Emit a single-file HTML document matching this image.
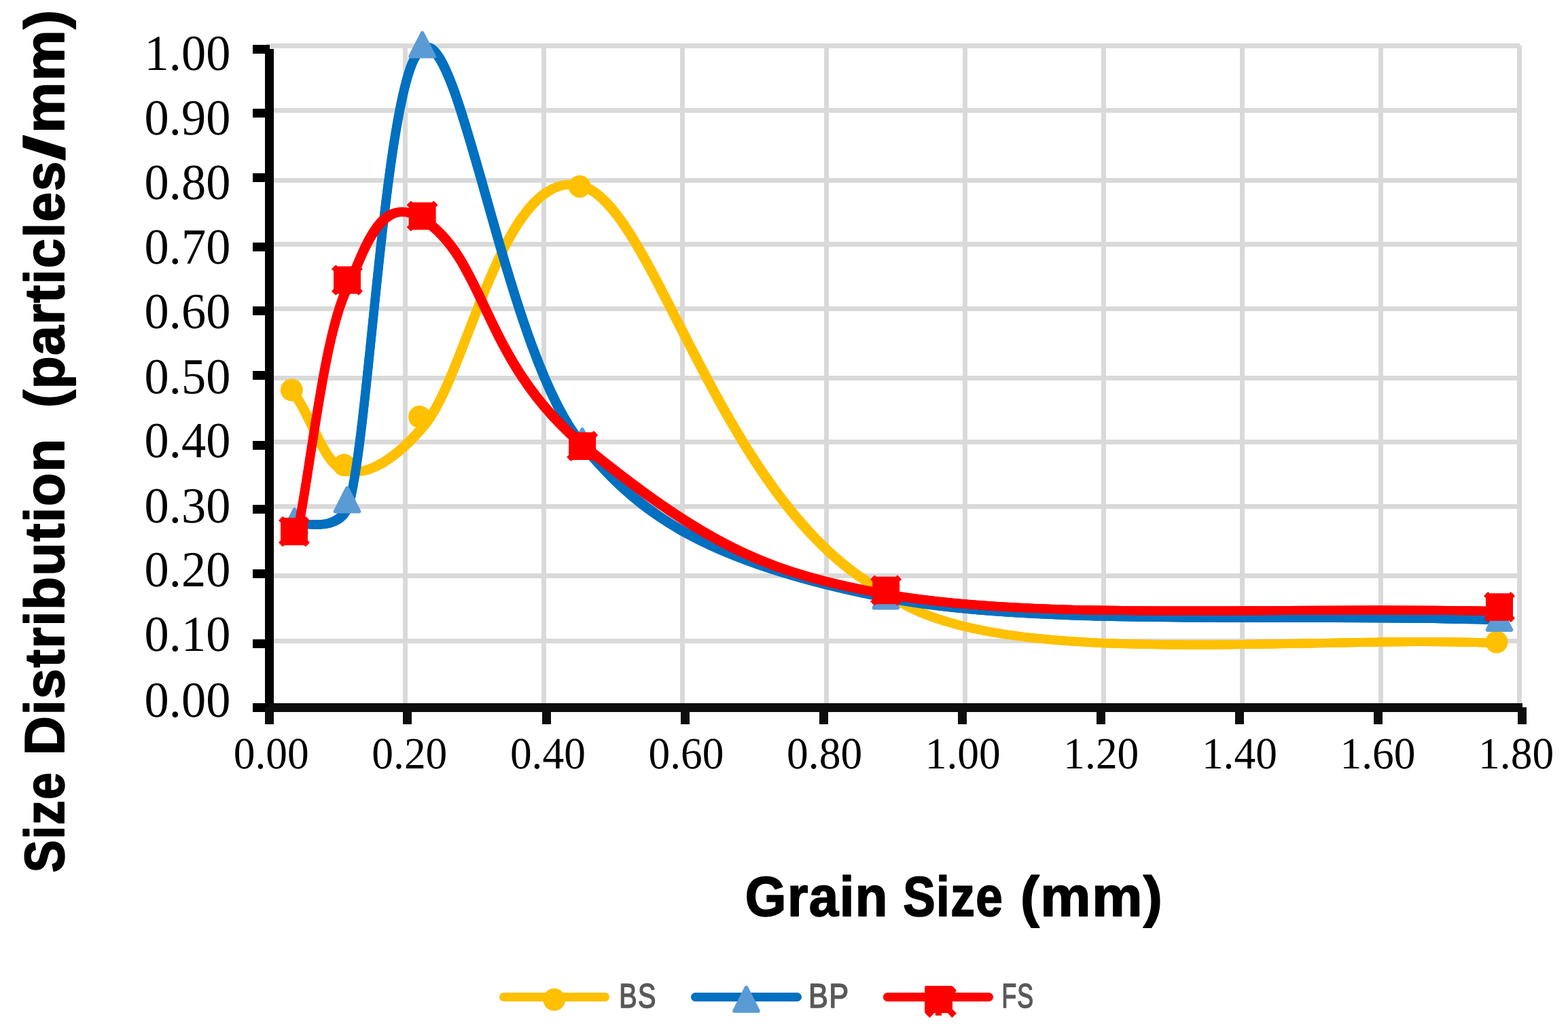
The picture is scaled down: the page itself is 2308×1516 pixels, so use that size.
<!DOCTYPE html>
<html lang="en">
<head>
<meta charset="utf-8">
<title>Size Distribution vs Grain Size</title>
<style>html,body{margin:0;padding:0;background:#fff}body{width:2308px;height:1516px}svg{display:block}</style>
</head>
<body>
<svg width="2308" height="1516" viewBox="0 0 2308 1516" shape-rendering="crispEdges" role="img" aria-label="Size distribution versus grain size for BS, BP and FS">
<rect width="2308" height="1516" fill="#fff"/>
<g fill="#D9D9D9">
<rect x="392" y="64" width="1845" height="7"/>
<rect x="392" y="159" width="1845" height="7"/>
<rect x="392" y="262" width="1845" height="7"/>
<rect x="392" y="356" width="1845" height="7"/>
<rect x="392" y="451" width="1845" height="7"/>
<rect x="392" y="553" width="1845" height="7"/>
<rect x="392" y="647" width="1845" height="7"/>
<rect x="392" y="742" width="1845" height="7"/>
<rect x="392" y="844" width="1845" height="7"/>
<rect x="392" y="940" width="1845" height="7"/>
<rect x="593" y="67" width="7" height="968"/>
<rect x="797" y="67" width="7" height="968"/>
<rect x="1001" y="67" width="7" height="968"/>
<rect x="1213" y="67" width="7" height="968"/>
<rect x="1417" y="67" width="7" height="968"/>
<rect x="1621" y="67" width="7" height="968"/>
<rect x="1825" y="67" width="7" height="968"/>
<rect x="2029" y="67" width="7" height="968"/>
<rect x="2233" y="67" width="7" height="968"/>
</g>
<g fill="none" stroke-width="13" stroke-linejoin="round" stroke-linecap="round" shape-rendering="geometricPrecision">
<g stroke="#FFC000"><path d="M436.5 584.4 C461.0 620.8 478.6 686.6 510.0 693.5 C541.4 700.4 582.0 676.6 625.0 625.5 C689.4 548.9 743.0 232.4 861.3 275.5 C967.1 314.0 1066.9 754.2 1307.5 874.0 C1455.7 991.6 1949.0 931.7 2210.5 947.3"/>
<path d="M436.5 584.4 C461.0 620.8 478.6 686.6 510.0 693.5 C541.4 700.4 582.0 676.6 625.0 625.5 C689.4 548.9 743.0 232.4 861.3 275.5 C967.1 314.0 1066.9 754.2 1307.5 874.0 C1455.7 991.6 1949.0 931.7 2210.5 947.3" stroke-width="8.2" transform="translate(-2.4 -2.4)"/>
<path d="M436.5 584.4 C461.0 620.8 478.6 686.6 510.0 693.5 C541.4 700.4 582.0 676.6 625.0 625.5 C689.4 548.9 743.0 232.4 861.3 275.5 C967.1 314.0 1066.9 754.2 1307.5 874.0 C1455.7 991.6 1949.0 931.7 2210.5 947.3" stroke-width="8.2" transform="translate(2.4 -2.4)"/>
<path d="M436.5 584.4 C461.0 620.8 478.6 686.6 510.0 693.5 C541.4 700.4 582.0 676.6 625.0 625.5 C689.4 548.9 743.0 232.4 861.3 275.5 C967.1 314.0 1066.9 754.2 1307.5 874.0 C1455.7 991.6 1949.0 931.7 2210.5 947.3" stroke-width="8.2" transform="translate(2.4 2.4)"/>
<path d="M436.5 584.4 C461.0 620.8 478.6 686.6 510.0 693.5 C541.4 700.4 582.0 676.6 625.0 625.5 C689.4 548.9 743.0 232.4 861.3 275.5 C967.1 314.0 1066.9 754.2 1307.5 874.0 C1455.7 991.6 1949.0 931.7 2210.5 947.3" stroke-width="8.2" transform="translate(-2.4 2.4)"/>
</g>
<g stroke="none"><circle cx="429.3" cy="574.0" r="16.5" fill="#FFC000"/><circle cx="506.5" cy="684.5" r="16.5" fill="#FFC000"/><circle cx="617.5" cy="613.5" r="16.5" fill="#FFC000"/><circle cx="853.3" cy="274.4" r="16.5" fill="#FFC000"/><circle cx="1300.5" cy="869.0" r="16.5" fill="#FFC000"/><circle cx="2203.0" cy="945.0" r="16.5" fill="#FFC000"/></g>
<g stroke="#0070C0"><path d="M436.5 770.3 C462.0 772.5 503.5 780.0 514.5 738.7 C545.9 621.9 567.9 83.6 625.0 69.5 C681.5 55.5 745.4 521.6 856.9 654.1 C933.1 744.7 1021.0 825.7 1307.5 880.5 C1533.1 923.6 1909.5 902.2 2210.5 913.0"/>
<path d="M436.5 770.3 C462.0 772.5 503.5 780.0 514.5 738.7 C545.9 621.9 567.9 83.6 625.0 69.5 C681.5 55.5 745.4 521.6 856.9 654.1 C933.1 744.7 1021.0 825.7 1307.5 880.5 C1533.1 923.6 1909.5 902.2 2210.5 913.0" stroke-width="8.2" transform="translate(-2.4 -2.4)"/>
<path d="M436.5 770.3 C462.0 772.5 503.5 780.0 514.5 738.7 C545.9 621.9 567.9 83.6 625.0 69.5 C681.5 55.5 745.4 521.6 856.9 654.1 C933.1 744.7 1021.0 825.7 1307.5 880.5 C1533.1 923.6 1909.5 902.2 2210.5 913.0" stroke-width="8.2" transform="translate(2.4 -2.4)"/>
<path d="M436.5 770.3 C462.0 772.5 503.5 780.0 514.5 738.7 C545.9 621.9 567.9 83.6 625.0 69.5 C681.5 55.5 745.4 521.6 856.9 654.1 C933.1 744.7 1021.0 825.7 1307.5 880.5 C1533.1 923.6 1909.5 902.2 2210.5 913.0" stroke-width="8.2" transform="translate(2.4 2.4)"/>
<path d="M436.5 770.3 C462.0 772.5 503.5 780.0 514.5 738.7 C545.9 621.9 567.9 83.6 625.0 69.5 C681.5 55.5 745.4 521.6 856.9 654.1 C933.1 744.7 1021.0 825.7 1307.5 880.5 C1533.1 923.6 1909.5 902.2 2210.5 913.0" stroke-width="8.2" transform="translate(-2.4 2.4)"/>
</g>
<g stroke="none"><path d="M433.5 750.0 L451.0 784.4 L416.0 784.4 Z" fill="#5B9BD5" stroke="#5B9BD5" stroke-width="5.6" stroke-linejoin="round"/><path d="M511.0 718.3 L528.5 752.7 L493.5 752.7 Z" fill="#5B9BD5" stroke="#5B9BD5" stroke-width="5.6" stroke-linejoin="round"/><path d="M621.6 48.5 L639.1 82.9 L604.1 82.9 Z" fill="#5B9BD5" stroke="#5B9BD5" stroke-width="5.6" stroke-linejoin="round"/><path d="M857.1 632.0 L874.6 666.4 L839.6 666.4 Z" fill="#5B9BD5" stroke="#5B9BD5" stroke-width="5.6" stroke-linejoin="round"/><path d="M1303.9 860.2 L1321.4 894.6 L1286.4 894.6 Z" fill="#5B9BD5" stroke="#5B9BD5" stroke-width="5.6" stroke-linejoin="round"/><path d="M2207.0 892.7 L2224.5 927.1 L2189.5 927.1 Z" fill="#5B9BD5" stroke="#5B9BD5" stroke-width="5.6" stroke-linejoin="round"/></g>
<g stroke="#FF0000"><path d="M436.5 788.0 C453.8 720.5 476.2 482.1 514.5 418.0 C541.8 350.8 566.3 283.3 625.0 324.0 C718.9 389.1 708.4 534.5 866.5 662.1 C1048.5 809.0 1137.3 844.9 1307.5 875.0 C1531.5 914.6 1909.5 891.5 2210.5 899.8"/>
<path d="M436.5 788.0 C453.8 720.5 476.2 482.1 514.5 418.0 C541.8 350.8 566.3 283.3 625.0 324.0 C718.9 389.1 708.4 534.5 866.5 662.1 C1048.5 809.0 1137.3 844.9 1307.5 875.0 C1531.5 914.6 1909.5 891.5 2210.5 899.8" stroke-width="8.2" transform="translate(-2.4 -2.4)"/>
<path d="M436.5 788.0 C453.8 720.5 476.2 482.1 514.5 418.0 C541.8 350.8 566.3 283.3 625.0 324.0 C718.9 389.1 708.4 534.5 866.5 662.1 C1048.5 809.0 1137.3 844.9 1307.5 875.0 C1531.5 914.6 1909.5 891.5 2210.5 899.8" stroke-width="8.2" transform="translate(2.4 -2.4)"/>
<path d="M436.5 788.0 C453.8 720.5 476.2 482.1 514.5 418.0 C541.8 350.8 566.3 283.3 625.0 324.0 C718.9 389.1 708.4 534.5 866.5 662.1 C1048.5 809.0 1137.3 844.9 1307.5 875.0 C1531.5 914.6 1909.5 891.5 2210.5 899.8" stroke-width="8.2" transform="translate(2.4 2.4)"/>
<path d="M436.5 788.0 C453.8 720.5 476.2 482.1 514.5 418.0 C541.8 350.8 566.3 283.3 625.0 324.0 C718.9 389.1 708.4 534.5 866.5 662.1 C1048.5 809.0 1137.3 844.9 1307.5 875.0 C1531.5 914.6 1909.5 891.5 2210.5 899.8" stroke-width="8.2" transform="translate(-2.4 2.4)"/>
</g>
<g stroke="none"><path d="M413.0 761.9H453.0V802.5H413.0ZM410.0 766.0L416.3 759.7L422.6 766.0L416.3 772.3ZM443.4 766.0L449.7 759.7L456.0 766.0L449.7 772.3ZM443.4 798.4L449.7 792.1L456.0 798.4L449.7 804.7ZM410.0 798.4L416.3 792.1L422.6 798.4L416.3 804.7Z" fill="#FF0000"/><path d="M491.0 391.9H531.0V432.5H491.0ZM488.0 396.0L494.3 389.7L500.6 396.0L494.3 402.3ZM521.4 396.0L527.7 389.7L534.0 396.0L527.7 402.3ZM521.4 428.4L527.7 422.1L534.0 428.4L527.7 434.7ZM488.0 428.4L494.3 422.1L500.6 428.4L494.3 434.7Z" fill="#FF0000"/><path d="M601.6 297.7H641.6V338.3H601.6ZM598.6 301.8L604.9 295.5L611.2 301.8L604.9 308.1ZM632.0 301.8L638.3 295.5L644.6 301.8L638.3 308.1ZM632.0 334.2L638.3 327.9L644.6 334.2L638.3 340.5ZM598.6 334.2L604.9 327.9L611.2 334.2L604.9 340.5Z" fill="#FF0000"/><path d="M837.2 636.3H877.2V676.9H837.2ZM834.2 640.4L840.5 634.1L846.8 640.4L840.5 646.7ZM867.6 640.4L873.9 634.1L880.2 640.4L873.9 646.7ZM867.6 672.8L873.9 666.5L880.2 672.8L873.9 679.1ZM834.2 672.8L840.5 666.5L846.8 672.8L840.5 679.1Z" fill="#FF0000"/><path d="M1284.1 848.7H1324.1V889.3H1284.1ZM1281.1 852.8L1287.4 846.5L1293.7 852.8L1287.4 859.1ZM1314.5 852.8L1320.8 846.5L1327.1 852.8L1320.8 859.1ZM1314.5 885.2L1320.8 878.9L1327.1 885.2L1320.8 891.5ZM1281.1 885.2L1287.4 878.9L1293.7 885.2L1287.4 891.5Z" fill="#FF0000"/><path d="M2187.0 873.2H2227.0V913.8H2187.0ZM2184.0 877.3L2190.3 871.0L2196.6 877.3L2190.3 883.6ZM2217.4 877.3L2223.7 871.0L2230.0 877.3L2223.7 883.6ZM2217.4 909.7L2223.7 903.4L2230.0 909.7L2223.7 916.0ZM2184.0 909.7L2190.3 903.4L2196.6 909.7L2190.3 916.0Z" fill="#FF0000"/></g>
</g>
<g fill="#000">
<rect x="390" y="72" width="13" height="976"/>
<rect x="372" y="66" width="25" height="13"/>
<rect x="372" y="160" width="25" height="13"/>
<rect x="372" y="255" width="25" height="13"/>
<rect x="372" y="357" width="25" height="13"/>
<rect x="372" y="451" width="25" height="13"/>
<rect x="372" y="546" width="25" height="13"/>
<rect x="372" y="649" width="25" height="13"/>
<rect x="372" y="743" width="25" height="13"/>
<rect x="372" y="838" width="25" height="13"/>
<rect x="372" y="941" width="25" height="13"/>
<rect x="372" y="1035" width="25" height="13"/>
</g>
<g fill="#0D0D0D">
<rect x="396" y="1035" width="1845" height="13"/>
<rect x="390" y="1041" width="13" height="25"/>
<rect x="593" y="1041" width="13" height="25"/>
<rect x="798" y="1041" width="13" height="25"/>
<rect x="1002" y="1041" width="13" height="25"/>
<rect x="1206" y="1041" width="13" height="25"/>
<rect x="1410" y="1041" width="13" height="25"/>
<rect x="1614" y="1041" width="13" height="25"/>
<rect x="1818" y="1041" width="13" height="25"/>
<rect x="2022" y="1041" width="13" height="25"/>
<rect x="2234" y="1041" width="13" height="25"/>
</g>
<g text-rendering="geometricPrecision">
<g font-family="'Liberation Serif', serif" font-size="74.30" fill="#000" text-anchor="end">
<text transform="translate(339.40 102.67) scale(0.9750 1)">1.00</text>
<text transform="translate(339.40 197.97) scale(0.9750 1)">0.90</text>
<text transform="translate(339.40 293.37) scale(0.9750 1)">0.80</text>
<text transform="translate(339.40 388.47) scale(0.9750 1)">0.70</text>
<text transform="translate(339.40 482.97) scale(0.9750 1)">0.60</text>
<text transform="translate(339.40 579.17) scale(0.9750 1)">0.50</text>
<text transform="translate(339.40 673.37) scale(0.9750 1)">0.40</text>
<text transform="translate(339.40 769.17) scale(0.9750 1)">0.30</text>
<text transform="translate(339.40 863.47) scale(0.9750 1)">0.20</text>
<text transform="translate(339.40 958.47) scale(0.9750 1)">0.10</text>
<text transform="translate(339.40 1055.17) scale(0.9750 1)">0.00</text>
</g>
<g font-family="'Liberation Serif', serif" font-size="65.70" fill="#000" text-anchor="middle">
<text transform="translate(399.20 1131.23) scale(0.9660 1)">0.00</text>
<text transform="translate(602.80 1131.23) scale(0.9660 1)">0.20</text>
<text transform="translate(806.40 1131.23) scale(0.9660 1)">0.40</text>
<text transform="translate(1010.00 1131.23) scale(0.9660 1)">0.60</text>
<text transform="translate(1213.60 1131.23) scale(0.9660 1)">0.80</text>
<text transform="translate(1417.20 1131.23) scale(0.9660 1)">1.00</text>
<text transform="translate(1620.80 1131.23) scale(0.9660 1)">1.20</text>
<text transform="translate(1824.40 1131.23) scale(0.9660 1)">1.40</text>
<text transform="translate(2028.00 1131.23) scale(0.9660 1)">1.60</text>
<text transform="translate(2231.60 1131.23) scale(0.9660 1)">1.80</text>
</g>
<text transform="translate(94.30 1284.37) rotate(-90) scale(0.8671 1)" font-family="'Liberation Sans', sans-serif" font-weight="bold" font-size="82.50" letter-spacing="1.60" fill="#000" stroke="#000" stroke-width="1.80" stroke-linejoin="round">Size </text>
<text transform="translate(94.30 1111.73) rotate(-90) scale(0.9697 1)" font-family="'Liberation Sans', sans-serif" font-weight="bold" font-size="82.50" letter-spacing="1.60" fill="#000" stroke="#000" stroke-width="1.80" stroke-linejoin="round">Distribution  </text>
<text transform="translate(94.30 599.96) rotate(-90) scale(0.9502 1)" font-family="'Liberation Sans', sans-serif" font-weight="bold" font-size="82.50" letter-spacing="1.60" fill="#000" stroke="#000" stroke-width="1.80" stroke-linejoin="round">(particles</text>
<text transform="translate(94.30 236.18) rotate(-90) scale(1.6344 1)" font-family="'Liberation Sans', sans-serif" font-weight="bold" font-size="82.50" letter-spacing="1.60" fill="#000" stroke="#000" stroke-width="1.80" stroke-linejoin="round">/</text>
<text transform="translate(94.30 195.99) rotate(-90) scale(1.0226 1)" font-family="'Liberation Sans', sans-serif" font-weight="bold" font-size="82.50" letter-spacing="1.60" fill="#000" stroke="#000" stroke-width="1.80" stroke-linejoin="round">mm)</text>
<text transform="translate(1096.73 1348.00) scale(0.9453 1)" font-family="'Liberation Sans', sans-serif" font-weight="bold" font-size="82.50" letter-spacing="1.60" fill="#000" stroke="#000" stroke-width="1.80" stroke-linejoin="round">Grain </text>
<text transform="translate(1329.24 1348.00) scale(0.8623 1)" font-family="'Liberation Sans', sans-serif" font-weight="bold" font-size="82.50" letter-spacing="1.60" fill="#000" stroke="#000" stroke-width="1.80" stroke-linejoin="round">Size </text>
<text transform="translate(1501.94 1348.00) scale(1.0116 1)" font-family="'Liberation Sans', sans-serif" font-weight="bold" font-size="82.50" letter-spacing="1.60" fill="#000" stroke="#000" stroke-width="1.80" stroke-linejoin="round">(mm)</text>
<text transform="translate(911.26 1483.00) scale(0.7869 1)" font-family="'Liberation Sans', sans-serif" font-weight="normal" font-size="50.29" letter-spacing="1.60" fill="#595959" stroke="#595959" stroke-width="1.60" stroke-linejoin="round">BS</text>
<text transform="translate(1190.03 1483.00) scale(0.8592 1)" font-family="'Liberation Sans', sans-serif" font-weight="normal" font-size="50.29" letter-spacing="1.60" fill="#595959" stroke="#595959" stroke-width="1.60" stroke-linejoin="round">BP</text>
<text transform="translate(1474.41 1483.00) scale(0.7094 1)" font-family="'Liberation Sans', sans-serif" font-weight="normal" font-size="50.29" letter-spacing="1.60" fill="#595959" stroke="#595959" stroke-width="1.60" stroke-linejoin="round">FS</text>
</g>
<g shape-rendering="geometricPrecision" fill="none" stroke-width="13" stroke-linecap="round">
<path d="M741.5 1467.5 H890.5" stroke="#FFC000"/><circle cx="815.7" cy="1471.3" r="16.5" fill="#FFC000"/>
<path d="M1023.5 1467.5 H1173.5" stroke="#0070C0"/><path d="M1098.5 1453.6 L1116.0 1488.0 L1081.0 1488.0 Z" fill="#5B9BD5" stroke="#5B9BD5" stroke-width="5.6" stroke-linejoin="round"/>
<path d="M1306.3 1467.5 H1455.5" stroke="#FF0000"/><path d="M1361.9 1451.1 L1399.9 1451.1 L1402.8 1452.0 L1408.0 1457.7 L1405.7 1460.9 L1402.0 1461.1 L1402.0 1485.6 L1408.0 1491.4 L1401.4 1498.0 L1394.9 1490.9 L1385.9 1490.9 L1385.9 1494.8 L1376.9 1494.8 L1376.9 1490.9 L1375.3 1490.9 L1368.5 1498.0 L1361.9 1491.4 L1361.1 1488.8 L1361.1 1453.2 Z" fill="#FF0000"/>
</g>
</svg>
</body>
</html>
